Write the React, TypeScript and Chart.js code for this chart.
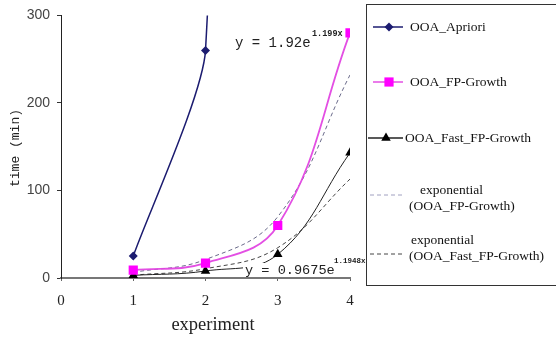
import { useEffect, useRef } from "react";
import { Chart, registerables } from "chart.js";
Chart.register(...registerables);

const experiments = [1, 2, 3, 4];
const aprioriExperiments = [1, 2, 3];
const aprioriTime = [25, 260, 3000];
const fpGrowthTime = [9, 17, 60, 280];
const fastFpGrowthTime = [3, 8, 27, 143];
const fpTrendTime = [6.4, 21.1, 70, 232];
const fastTrendTime = [3.2, 10.6, 34.6, 113];
const xTicks = [0, 1, 2, 3, 4];
const yTicks = [0, 100, 200, 300];
const legendLabels = [
  ["OOA_Apriori"],
  ["OOA_FP-Growth"],
  ["OOA_Fast_FP-Growth"],
  ["exponential", "(OOA_FP-Growth)"],
  ["exponential", "(OOA_Fast_FP-Growth)"],
];
const fpEquation = ["y = 1.92e", "1.199x"];
const fastEquation = ["y = 0.9675e", "1.1948x"];
const xTitle = "experiment";
const yTitle = "time (min)";

const pts = (xs: number[], ys: number[]) => ys.map((y, i) => ({ x: xs[i], y }));

function drawMarker(ctx: CanvasRenderingContext2D, style: string, x: number, y: number, r: number, color: string) {
  ctx.save();
  ctx.fillStyle = color;
  ctx.beginPath();
  if (style === "rectRot") {
    ctx.moveTo(x, y - r);
    ctx.lineTo(x + r, y);
    ctx.lineTo(x, y + r);
    ctx.lineTo(x - r, y);
  } else if (style === "rect") {
    const s = r * Math.SQRT1_2;
    ctx.rect(x - s, y - s, 2 * s, 2 * s);
  } else if (style === "triangle") {
    ctx.moveTo(x, y - r);
    ctx.lineTo(x + r * 0.866, y + r * 0.5);
    ctx.lineTo(x - r * 0.866, y + r * 0.5);
  }
  ctx.closePath();
  ctx.fill();
  ctx.restore();
}

const overlayPlugin = {
  id: "overlay",
  afterDatasetsDraw(chart: any) {
    const ctx: CanvasRenderingContext2D = chart.ctx;
    ctx.save();
    ctx.textBaseline = "middle";
    ctx.textAlign = "left";
    ctx.fillStyle = "#222";
    ctx.font = "14px 'Liberation Mono'";
    ctx.fillText(fpEquation[0], 235, 43);
    ctx.font = "bold 8.5px 'Liberation Mono'";
    ctx.fillText(fpEquation[1], 312, 34);

    ctx.fillStyle = "#fff";
    ctx.fillRect(243, 263, 122, 13);
    ctx.fillStyle = "#222";
    ctx.font = "13.6px 'Liberation Mono'";
    ctx.fillText(fastEquation[0], 245, 270);
    ctx.font = "bold 7.5px 'Liberation Mono'";
    ctx.fillText(fastEquation[1], 334, 261);
    ctx.restore();
  },
  afterDraw(chart: any) {
    const ctx: CanvasRenderingContext2D = chart.ctx;
    ctx.save();
    ctx.fillStyle = "#222";
    ctx.textAlign = "center";
    ctx.textBaseline = "middle";
    ctx.font = "18.5px 'Liberation Serif'";
    ctx.fillText(xTitle, 213, 325);
    ctx.save();
    ctx.translate(16, 148);
    ctx.rotate(-Math.PI / 2);
    ctx.font = "13px 'Liberation Mono'";
    ctx.fillText(yTitle, 0, 0);
    ctx.restore();

    ctx.strokeStyle = "#333";
    ctx.lineWidth = 1;
    ctx.strokeRect(366.5, 4.5, 200, 281);

    const ds = chart.data.datasets;
    ctx.textAlign = "left";
    ctx.font = "13.5px 'Liberation Serif'";
    ctx.fillStyle = "#111";
    const rows = [27, 82, 138];
    for (let i = 0; i < 3; i++) {
      const d = ds[i];
      const y = rows[i];
      const x0 = i === 2 ? 368 : 373;
      const mx = i === 2 ? 386 : 389;
      ctx.strokeStyle = d.borderColor;
      ctx.lineWidth = 1.5;
      ctx.beginPath();
      ctx.moveTo(x0, y);
      ctx.lineTo(403, y);
      ctx.stroke();
      drawMarker(ctx, d.pointStyle, mx, y, d.pointRadius, d.pointBackgroundColor);
      ctx.fillStyle = "#111";
      ctx.fillText(legendLabels[i][0], i === 2 ? 405 : 410, y);
    }
    const trendRows = [
      { dash: 195, l1: 190, l2: 206, x1: 420, x2: 409, color: "#a0a0c0" },
      { dash: 254, l1: 240, l2: 256, x1: 411, x2: 409, color: "#444" },
    ];
    for (let j = 0; j < 2; j++) {
      const r = trendRows[j];
      ctx.strokeStyle = r.color;
      ctx.lineWidth = 1;
      ctx.setLineDash([4, 3]);
      ctx.beginPath();
      ctx.moveTo(370, r.dash);
      ctx.lineTo(405, r.dash);
      ctx.stroke();
      ctx.setLineDash([]);
      ctx.fillStyle = "#111";
      ctx.fillText(legendLabels[3 + j][0], r.x1, r.l1);
      ctx.fillText(legendLabels[3 + j][1], r.x2, r.l2);
    }
    ctx.restore();
  },
};

export default function App() {
  const ref = useRef<HTMLCanvasElement>(null);
  useEffect(() => {
    if (!ref.current) return;
    const chart = new Chart(ref.current, {
      type: "line",
      data: {
        datasets: [
          {
            label: legendLabels[0].join(" "),
            data: pts(aprioriExperiments, aprioriTime),
            borderColor: "#1c1c70",
            backgroundColor: "#1c1c70",
            pointBackgroundColor: "#1c1c70",
            pointBorderWidth: 0,
            pointStyle: "rectRot",
            pointRadius: 4.5,
            borderWidth: 1.5,
            tension: 0.2,
          },
          {
            label: legendLabels[1].join(" "),
            data: pts(experiments, fpGrowthTime),
            borderColor: "rgba(225,70,225,0.95)",
            backgroundColor: "#ff00ff",
            pointBackgroundColor: "#ff00ff",
            pointBorderWidth: 0,
            pointStyle: "rect",
            pointRadius: 6.5,
            borderWidth: 1.8,
            tension: 0.4,
          },
          {
            label: legendLabels[2].join(" "),
            data: pts(experiments, fastFpGrowthTime),
            borderColor: "#222",
            backgroundColor: "#000",
            pointBackgroundColor: "#000",
            pointBorderWidth: 0,
            pointStyle: "triangle",
            pointRadius: 5.5,
            borderWidth: 1,
            tension: 0.4,
          },
          {
            label: legendLabels[3].join(" "),
            data: pts(experiments, fpTrendTime),
            borderColor: "#6a6a8a",
            borderDash: [4, 3],
            borderWidth: 1,
            pointRadius: 0,
            tension: 0.4,
          },
          {
            label: legendLabels[4].join(" "),
            data: pts(experiments, fastTrendTime),
            borderColor: "#444",
            borderDash: [4, 3],
            borderWidth: 1,
            pointRadius: 0,
            tension: 0.4,
          },
        ] as any,
      },
      options: {
        animation: false,
        responsive: false,
        events: [],
        layout: { padding: { top: 15, right: 206, left: 0, bottom: 0 } },
        plugins: { legend: { display: false }, tooltip: { enabled: false } },
        scales: {
          x: {
            type: "linear",
            min: 0,
            max: 4,
            afterFit: (s: any) => {
              s.height = 59;
            },
            afterBuildTicks: (s: any) => {
              s.ticks = xTicks.map((v) => ({ value: v }));
            },
            ticks: {
              color: "#222",
              font: { family: "'Liberation Serif'", size: 15 },
              padding: 11,
            },
            grid: { drawOnChartArea: false, drawTicks: true, tickLength: 3, color: "#666" },
            border: { color: "#777", width: 2 },
          },
          y: {
            type: "linear",
            min: 0,
            max: 300,
            afterFit: (s: any) => {
              s.width = 61;
            },
            afterBuildTicks: (s: any) => {
              s.ticks = yTicks.map((v) => ({ value: v }));
            },
            ticks: {
              color: "#444",
              font: { family: "'Liberation Sans'", size: 14 },
              padding: 7,
            },
            grid: { drawOnChartArea: false, drawTicks: true, tickLength: 4, color: "#333" },
            border: { color: "#222", width: 1 },
          },
        },
      },
      plugins: [overlayPlugin],
    });
    return () => chart.destroy();
  }, []);
  return (
    <div style={{ position: "fixed", left: 0, top: 0, width: 556, height: 337, background: "#fff" }}>
      <canvas ref={ref} width={556} height={337} />
    </div>
  );
}
